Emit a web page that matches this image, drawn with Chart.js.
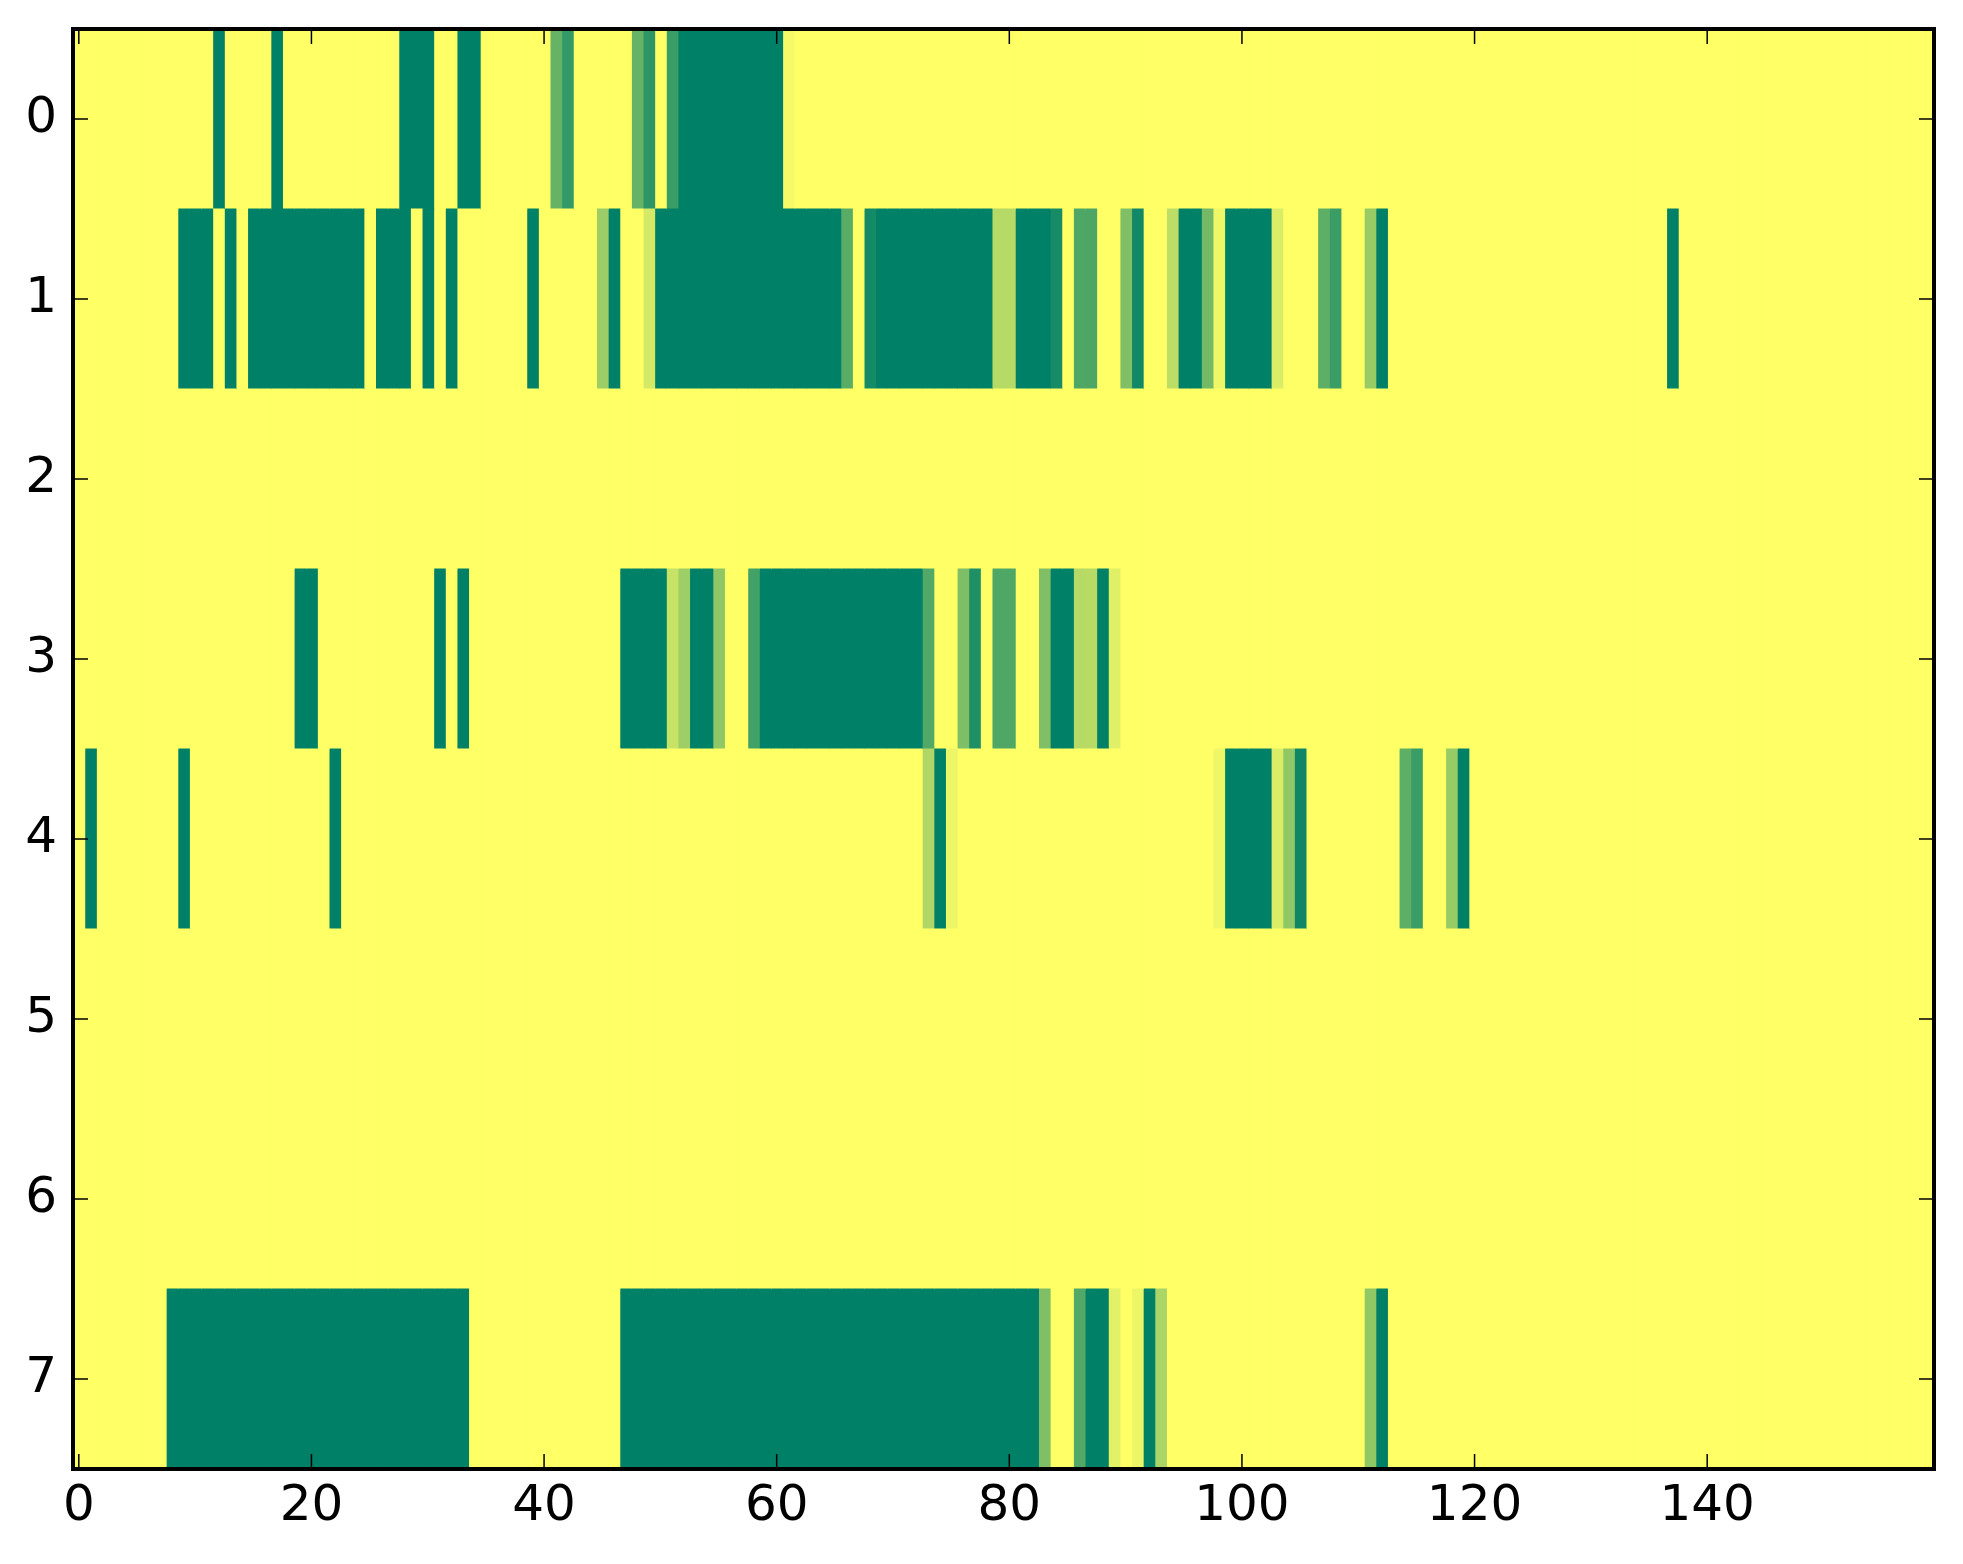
<!DOCTYPE html>
<html>
<head>
<meta charset="utf-8">
<script src="https://cdn.jsdelivr.net/npm/chart.js@4.4.1/dist/chart.umd.min.js"></script>
<style>
  html, body { margin: 0; padding: 0; background: #fff; }
  canvas { display: block; }
</style>
</head>
<body>
<canvas id="heat" width="1963" height="1564"></canvas>
<script>
// row labels (y) and the x ticks shown
const rowLabels = ['0', '1', '2', '3', '4', '5', '6', '7'];
const xTicks = [0, 20, 40, 60, 80, 100, 120, 140];

// cell values, 160 columns per row (1 = yellow, 0 = dark green)
const row0 = [
  1,1,1,1,1,1,1,1,1,1,1,1,0,1,1,1,1,0,1,1,
  1,1,1,1,1,1,1,1,0,0,0,1,1,0,0,1,1,1,1,1,
  1,0.40,0.20,1,1,1,1,1,0.40,0.18,1,0.23,0,0,0,0,0,0,0,0,
  0,0.96,1,1,1,1,1,1,1,1,1,1,1,1,1,1,1,1,1,1,
  1,1,1,1,1,1,1,1,1,1,1,1,1,1,1,1,1,1,1,1,
  1,1,1,1,1,1,1,1,1,1,1,1,1,1,1,1,1,1,1,1,
  1,1,1,1,1,1,1,1,1,1,1,1,1,1,1,1,1,1,1,1,
  1,1,1,1,1,1,1,1,1,1,1,1,1,1,1,1,1,1,1,1
];
const row1 = [
  1,1,1,1,1,1,1,1,1,0,0,0,1,0,1,0,0,0,0,0,
  0,0,0,0,0,1,0,0,0,1,0,1,0,1,1,1,1,1,1,0,
  1,1,1,1,1,0.61,0,1,1,0.83,0,0,0,0,0,0,0,0,0,0,
  0,0,0,0,0,0,0.35,1,0.08,0,0,0,0,0,0,0,0,0,0,0.71,
  0.71,0,0,0,0.09,1,0.31,0.30,1,1,0.50,0.07,1,1,0.74,0,0,0.45,0.94,0,
  0,0,0,0.86,1,1,1,0.37,0.23,1,1,0.59,0,1,1,1,1,1,1,1,
  1,1,1,1,1,1,1,1,1,1,1,1,1,1,1,1,1,0,1,1,
  1,1,1,1,1,1,1,1,1,1,1,1,1,1,1,1,1,1,1,1
];
const row2 = [
  1,1,1,1,1,1,1,1,1,1,1,1,1,1,1,1,1,1,1,1,
  1,1,1,1,1,1,1,1,1,1,1,1,1,1,1,1,1,1,1,1,
  1,1,1,1,1,1,1,1,1,1,1,1,1,1,1,1,1,1,1,1,
  1,1,1,1,1,1,1,1,1,1,1,1,1,1,1,1,1,1,1,1,
  1,1,1,1,1,1,1,1,1,1,1,1,1,1,1,1,1,1,1,1,
  1,1,1,1,1,1,1,1,1,1,1,1,1,1,1,1,1,1,1,1,
  1,1,1,1,1,1,1,1,1,1,1,1,1,1,1,1,1,1,1,1,
  1,1,1,1,1,1,1,1,1,1,1,1,1,1,1,1,1,1,1,1
];
const row3 = [
  1,1,1,1,1,1,1,1,1,1,1,1,1,1,1,1,1,1,1,0,
  0,1,1,1,1,1,1,1,1,1,1,0,1,0,1,1,1,1,1,1,
  1,1,1,1,1,1,1,0,0,0,0,0.78,0.62,0,0,0.56,1,1,0.26,0,
  0,0,0,0,0,0,0,0,0,0,0,0,0,0.32,1,1,0.49,0.12,1,0.31,
  0.31,1,1,0.50,0,0,0.71,0.72,0,0.88,1,1,1,1,1,1,1,1,1,1,
  1,1,1,1,1,1,1,1,1,1,1,1,1,1,1,1,1,1,1,1,
  1,1,1,1,1,1,1,1,1,1,1,1,1,1,1,1,1,1,1,1,
  1,1,1,1,1,1,1,1,1,1,1,1,1,1,1,1,1,1,1,1
];
const row4 = [
  1,0,1,1,1,1,1,1,1,0,1,1,1,1,1,1,1,1,1,1,
  1,1,0,1,1,1,1,1,1,1,1,1,1,1,1,1,1,1,1,1,
  1,1,1,1,1,1,1,1,1,1,1,1,1,1,1,1,1,1,1,1,
  1,1,1,1,1,1,1,1,1,1,1,1,1,0.69,0,0.93,1,1,1,1,
  1,1,1,1,1,1,1,1,1,1,1,1,1,1,1,1,1,1,0.94,0,
  0,0,0,0.86,0.57,0.06,1,1,1,1,1,1,1,1,0.37,0.23,1,1,0.59,0,
  1,1,1,1,1,1,1,1,1,1,1,1,1,1,1,1,1,1,1,1,
  1,1,1,1,1,1,1,1,1,1,1,1,1,1,1,1,1,1,1,1
];
const row5 = [
  1,1,1,1,1,1,1,1,1,1,1,1,1,1,1,1,1,1,1,1,
  1,1,1,1,1,1,1,1,1,1,1,1,1,1,1,1,1,1,1,1,
  1,1,1,1,1,1,1,1,1,1,1,1,1,1,1,1,1,1,1,1,
  1,1,1,1,1,1,1,1,1,1,1,1,1,1,1,1,1,1,1,1,
  1,1,1,1,1,1,1,1,1,1,1,1,1,1,1,1,1,1,1,1,
  1,1,1,1,1,1,1,1,1,1,1,1,1,1,1,1,1,1,1,1,
  1,1,1,1,1,1,1,1,1,1,1,1,1,1,1,1,1,1,1,1,
  1,1,1,1,1,1,1,1,1,1,1,1,1,1,1,1,1,1,1,1
];
const row6 = [
  1,1,1,1,1,1,1,1,1,1,1,1,1,1,1,1,1,1,1,1,
  1,1,1,1,1,1,1,1,1,1,1,1,1,1,1,1,1,1,1,1,
  1,1,1,1,1,1,1,1,1,1,1,1,1,1,1,1,1,1,1,1,
  1,1,1,1,1,1,1,1,1,1,1,1,1,1,1,1,1,1,1,1,
  1,1,1,1,1,1,1,1,1,1,1,1,1,1,1,1,1,1,1,1,
  1,1,1,1,1,1,1,1,1,1,1,1,1,1,1,1,1,1,1,1,
  1,1,1,1,1,1,1,1,1,1,1,1,1,1,1,1,1,1,1,1,
  1,1,1,1,1,1,1,1,1,1,1,1,1,1,1,1,1,1,1,1
];
const row7 = [
  1,1,1,1,1,1,1,1,0,0,0,0,0,0,0,0,0,0,0,0,
  0,0,0,0,0,0,0,0,0,0,0,0,0,0,1,1,1,1,1,1,
  1,1,1,1,1,1,1,0,0,0,0,0,0,0,0,0,0,0,0,0,
  0,0,0,0,0,0,0,0,0,0,0,0,0,0,0,0,0,0,0,0,
  0,0,0,0.50,1,1,0.32,0,0,0.89,1,0.93,0,0.67,1,1,1,1,1,1,
  1,1,1,1,1,1,1,1,1,1,1,0.57,0,1,1,1,1,1,1,1,
  1,1,1,1,1,1,1,1,1,1,1,1,1,1,1,1,1,1,1,1,
  1,1,1,1,1,1,1,1,1,1,1,1,1,1,1,1,1,1,1,1
];

const grid = [row0, row1, row2, row3, row4, row5, row6, row7];

// matplotlib "summer" colormap
function summer(v) {
  return 'rgb(' + Math.round(255 * v) + ',' + Math.round(255 * (0.5 + 0.5 * v)) + ',102)';
}

// one dataset per column, each bar spans one cell of one row
const datasets = row0.map((_, c) => ({
  data: grid.map(() => [c - 0.5, c + 0.5]),
  backgroundColor: grid.map(row => summer(row[c])),
  borderWidth: 0,
  inflateAmount: 0.6,
  barPercentage: 1,
  categoryPercentage: 1
}));

// inward ticks on all four sides + black frame, like matplotlib classic
const frame = {
  id: 'frame',
  afterDatasetsDraw(chart) {
    const { ctx, chartArea: a, scales: { x, y } } = chart;
    const len = 15;
    ctx.save();
    ctx.strokeStyle = '#000';
    ctx.lineWidth = 1.5;
    ctx.beginPath();
    x.ticks.forEach((t, i) => {
      const px = x.getPixelForTick(i);
      ctx.moveTo(px, a.bottom); ctx.lineTo(px, a.bottom - len);
      ctx.moveTo(px, a.top); ctx.lineTo(px, a.top + len);
    });
    y.ticks.forEach((t, i) => {
      const py = y.getPixelForTick(i);
      ctx.moveTo(a.left, py); ctx.lineTo(a.left + len, py);
      ctx.moveTo(a.right, py); ctx.lineTo(a.right - len, py);
    });
    ctx.stroke();
    ctx.lineWidth = 4;
    ctx.strokeRect(a.left, a.top, a.right - a.left, a.bottom - a.top);
    ctx.restore();
  }
};

const tickFont = { family: '"DejaVu Sans", sans-serif', size: 50 };

new Chart(document.getElementById('heat').getContext('2d'), {
  type: 'bar',
  data: { labels: rowLabels, datasets: datasets },
  options: {
    indexAxis: 'y',
    responsive: false,
    animation: false,
    devicePixelRatio: 1,
    layout: { padding: { left: 0, right: 29, top: 29, bottom: 0 } },
    plugins: { legend: { display: false }, tooltip: { enabled: false } },
    scales: {
      x: {
        type: 'linear',
        min: -0.5,
        max: 159.5,
        afterBuildTicks: s => { s.ticks = xTicks.map(v => ({ value: v })); },
        afterFit: s => { s.height = 95; s.paddingLeft = 0; s.paddingRight = 0; },
        grid: { display: false, drawTicks: false },
        border: { display: false },
        ticks: { font: tickFont, color: '#000', padding: 8, maxRotation: 0 }
      },
      y: {
        type: 'category',
        stacked: true,
        afterFit: s => { s.width = 73; s.paddingTop = 0; s.paddingBottom = 0; },
        grid: { display: false, drawTicks: false },
        border: { display: false },
        ticks: { font: tickFont, color: '#000', padding: 16 }
      }
    }
  },
  plugins: [frame]
});
</script>
</body>
</html>
